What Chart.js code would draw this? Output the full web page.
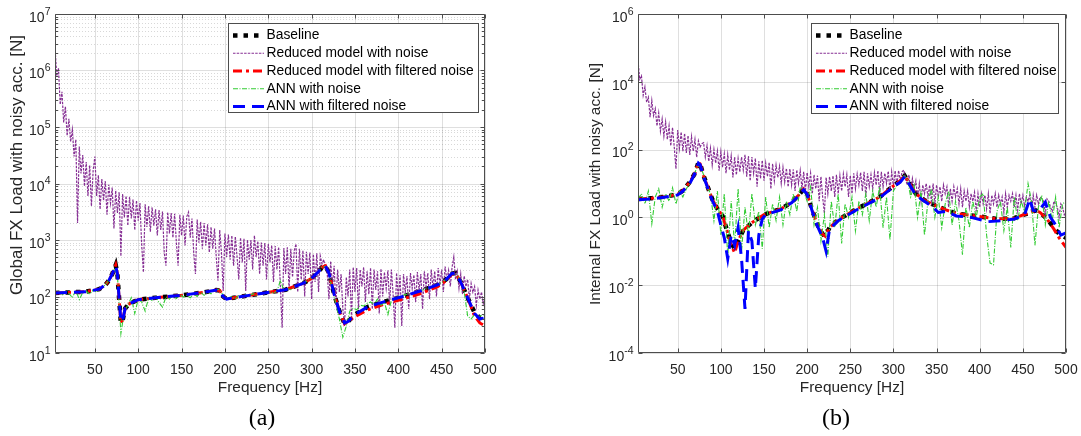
<!DOCTYPE html>
<html>
<head>
<meta charset="utf-8">
<title>FX load spectra with noisy acceleration</title>
<script src="https://cdn.jsdelivr.net/npm/chart.js@4.4.1/dist/chart.umd.min.js"></script>
<style>
  html, body { margin: 0; padding: 0; background: #fff; }
  #wrap { position: relative; width: 1081px; height: 436px; overflow: hidden; }
  canvas { position: absolute; top: 0; }
  #panelA { left: 0; width: 540px; height: 436px; }
  #panelB { left: 540px; width: 541px; height: 436px; }
  .caption { position: absolute; top: 404px; width: 60px; text-align: center; line-height: 28px;
             font: 24px "Liberation Serif", "Times New Roman", serif; color: #000; }
</style>
</head>
<body>
<div id="wrap">
  <canvas id="panelA" width="540" height="436"></canvas>
  <canvas id="panelB" width="541" height="436"></canvas>
  <div class="caption" style="left:232px">(a)</div>
  <div class="caption" style="left:806px">(b)</div>
</div>
<script>
// frequency bins of the ANN spectra [Hz]
const freq = [4, 8, 12, 16, 20, 24, 28, 32, 36, 40, 44, 48, 52, 56, 60, 64, 68, 72, 76, 80,
  84, 88, 92, 96, 100, 104, 108, 112, 116, 120, 124, 128, 132, 136, 140, 144, 148, 152, 156, 160,
  164, 168, 172, 176, 180, 184, 188, 192, 196, 200, 204, 208, 212, 216, 220, 224, 228, 232, 236, 240,
  244, 248, 252, 256, 260, 264, 268, 272, 276, 280, 284, 288, 292, 296, 300, 304, 308, 312, 316, 320,
  324, 328, 332, 336, 340, 344, 348, 352, 356, 360, 364, 368, 372, 376, 380, 384, 388, 392, 396, 400,
  404, 408, 412, 416, 420, 424, 428, 432, 436, 440, 444, 448, 452, 456, 460, 464, 468, 472, 476, 480,
  484, 488, 492, 496, 500];

// finer bins of the reduced-model spectra [Hz]
const freqFine = [4, 6, 8, 10, 12, 14, 16, 18, 20, 22, 24, 26, 28, 30, 32, 34, 36, 38, 40, 42,
  44, 46, 48, 50, 52, 54, 56, 58, 60, 62, 64, 66, 68, 70, 72, 74, 76, 78, 80, 82,
  84, 86, 88, 90, 92, 94, 96, 98, 100, 102, 104, 106, 108, 110, 112, 114, 116, 118, 120, 122,
  124, 126, 128, 130, 132, 134, 136, 138, 140, 142, 144, 146, 148, 150, 152, 154, 156, 158, 160, 162,
  164, 166, 168, 170, 172, 174, 176, 178, 180, 182, 184, 186, 188, 190, 192, 194, 196, 198, 200, 202,
  204, 206, 208, 210, 212, 214, 216, 218, 220, 222, 224, 226, 228, 230, 232, 234, 236, 238, 240, 242,
  244, 246, 248, 250, 252, 254, 256, 258, 260, 262, 264, 266, 268, 270, 272, 274, 276, 278, 280, 282,
  284, 286, 288, 290, 292, 294, 296, 298, 300, 302, 304, 306, 308, 310, 312, 314, 316, 318, 320, 322,
  324, 326, 328, 330, 332, 334, 336, 338, 340, 342, 344, 346, 348, 350, 352, 354, 356, 358, 360, 362,
  364, 366, 368, 370, 372, 374, 376, 378, 380, 382, 384, 386, 388, 390, 392, 394, 396, 398, 400, 402,
  404, 406, 408, 410, 412, 414, 416, 418, 420, 422, 424, 426, 428, 430, 432, 434, 436, 438, 440, 442,
  444, 446, 448, 450, 452, 454, 456, 458, 460, 462, 464, 466, 468, 470, 472, 474, 476, 478, 480, 482,
  484, 486, 488, 490, 492, 494, 496, 498, 500];

// (a) global FX load
const reducedNoiseA = [2600000, 800000, 1100000, 250000, 420000, 120000, 230000, 70000, 140000, 55000,
  90000, 30000, 60000, 2000, 45000, 15000, 32000, 9000, 24000, 6000,
  21000, 4000, 17000, 30000, 6000, 14000, 3500, 12000, 5000, 11000,
  2800, 9500, 4500, 8500, 1600, 7500, 3000, 7000, 520, 6500,
  2500, 6000, 1800, 5800, 2400, 5200, 1500, 5000, 2200, 4500,
  800, 270, 4300, 1700, 4000, 1400, 3800, 1800, 3500, 1200,
  3400, 1500, 3200, 600, 350, 3100, 1300, 3000, 1100, 2900,
  900, 350, 2800, 1200, 2700, 800, 2600, 3100, 1100, 2400,
  600, 250, 2300, 900, 2100, 700, 2000, 800, 1900, 600,
  1700, 700, 1600, 500, 190, 1500, 600, 125, 1300, 500,
  1250, 450, 1200, 350, 1150, 500, 200, 1100, 400, 1050,
  125, 1000, 450, 1000, 300, 1200, 500, 950, 250, 900,
  350, 880, 200, 850, 400, 800, 180, 780, 300, 750,
  150, 28, 720, 250, 740, 130, 700, 220, 650, 850,
  120, 700, 200, 650, 100, 620, 250, 600, 90, 560,
  180, 580, 120, 520, 380, 450, 300, 260, 90, 420,
  150, 350, 70, 300, 120, 250, 60, 30, 220, 100,
  300, 40, 330, 120, 320, 60, 300, 150, 330, 80,
  280, 110, 320, 60, 300, 130, 280, 50, 310, 100,
  270, 140, 290, 70, 300, 110, 28, 260, 90, 240,
  30, 250, 120, 230, 60, 260, 140, 240, 80, 270,
  130, 250, 60, 280, 150, 260, 90, 300, 140, 280,
  100, 320, 160, 300, 120, 340, 200, 290, 150, 330,
  500, 200, 280, 140, 250, 110, 230, 150, 200, 90,
  170, 120, 150, 70, 130, 90, 120, 75, 100];
const annNoiseA = [110, 120, 105, 125, 115, 95, 130, 88, 118, 125,
  110, 130, 120, 140, 150, 175, 220, 310, 240, 22,
  55, 70, 95, 50, 90, 80, 55, 95, 85, 100,
  78, 65, 98, 90, 105, 92, 110, 98, 105, 95,
  112, 100, 118, 105, 122, 112, 128, 135, 118, 92,
  95, 100, 90, 105, 98, 108, 102, 112, 105, 115,
  108, 118, 120, 115, 125, 190, 130, 138, 132, 150,
  155, 165, 175, 195, 215, 245, 280, 330, 340, 250,
  130, 75, 40, 19, 30, 55, 62, 58, 70, 68,
  75, 80, 72, 90, 70, 78, 48, 85, 95, 98,
  102, 108, 112, 110, 120, 125, 130, 138, 142, 150,
  158, 170, 185, 205, 240, 255, 240, 170, 120, 45,
  40, 48, 44, 46, 48];
const freqSmoothA = [4, 20, 40, 55, 62, 66, 70, 72, 74, 76, 78, 80, 82, 85, 90, 100, 120, 150, 175, 190,
  194, 198, 202, 210, 240, 270, 290, 300, 308, 312, 316, 320, 326, 332, 338, 342, 350, 365, 385, 405,
  425, 445, 455, 462, 466, 472, 480, 488, 494, 500];
const baselineA = [115, 118, 122, 135, 160, 190, 250, 300, 360, 250, 90, 34, 38, 62, 75, 88, 95, 105, 118, 130,
  128, 100, 90, 95, 112, 132, 170, 210, 275, 330, 350, 260, 110, 55, 33, 36, 48, 66, 82, 100,
  125, 160, 200, 255, 260, 180, 95, 52, 42, 47];
const reducedFilteredA = [115, 118, 122, 135, 160, 190, 250, 300, 360, 250, 90, 34, 38, 62, 75, 88, 95, 105, 118, 130,
  128, 100, 90, 95, 112, 132, 170, 210, 275, 330, 350, 260, 110, 55, 33, 36, 44, 58, 74, 90,
  112, 148, 190, 250, 260, 180, 95, 45, 34, 30];
const annFilteredA = [115, 118, 122, 135, 160, 190, 250, 300, 350, 250, 90, 36, 38, 62, 75, 88, 95, 105, 118, 130,
  128, 100, 90, 95, 112, 132, 170, 210, 275, 330, 345, 260, 110, 55, 34, 36, 48, 66, 82, 100,
  125, 160, 200, 255, 260, 180, 95, 50, 40, 42];

// (b) internal FX load
const reducedNoiseB = [42000, 12000, 15000, 4000, 7000, 2500, 3500, 900, 2800, 1000,
  1600, 500, 1200, 350, 800, 250, 650, 200, 500, 130,
  450, 120, 27, 380, 110, 330, 90, 300, 80, 260,
  70, 240, 90, 200, 60, 180, 120, 150, 160, 60,
  130, 45, 110, 35, 100, 40, 90, 24, 85, 30,
  75, 20, 70, 25, 65, 15, 60, 18, 55, 22,
  60, 25, 70, 16, 65, 12, 60, 20, 55, 8,
  45, 14, 48, 12, 40, 16, 42, 7, 38, 12,
  35, 15, 32, 10, 30, 11, 28, 8, 27, 9,
  26, 6, 25, 10, 24, 7, 22, 6, 21, 8,
  20, 5, 18, 7, 17, 3, 16, 4, 1.3, 15,
  5, 16, 6, 17, 4, 18, 5, 17, 6, 19,
  8, 18, 4, 17, 5, 20, 7, 19, 9, 21,
  6, 22, 4, 20, 8, 18, 7, 21, 9, 24,
  5, 22, 8, 20, 10, 23, 6, 22, 8, 24,
  9, 24, 12, 22, 25, 14, 9, 18, 6, 14,
  7, 12, 4, 10, 3, 9, 5, 10, 4, 9,
  3, 10, 2.5, 9, 4, 8, 3, 9, 5, 8,
  2, 7, 3, 8, 4, 7, 2.5, 7, 2, 6,
  3, 6, 2, 5, 3, 5.5, 1.5, 5, 2, 5,
  2.5, 4.5, 1.8, 5, 1.3, 4.5, 2.5, 5, 2, 4.5,
  2.5, 4, 1.4, 5, 2, 4.5, 3, 5, 2, 4.5,
  1.6, 5, 2.5, 4.5, 2.2, 4, 3, 4.5, 1.5, 4.5,
  2, 4.5, 2.5, 4, 3.5, 3, 1.2, 3.5, 3, 2,
  1.5, 3, 2.5, 2, 1, 2.5, 2, 1.2, 1.5];
const annNoiseB = [3.5, 5, 2.5, 6, 0.65, 4, 7, 2, 5, 3,
  7.5, 2.5, 6, 4, 7, 10, 14, 30, 35, 18,
  8, 5, 0.8, 6, 0.3, 5, 0.07, 3, 0.15, 7,
  0.1, 2, 0.3, 5, 0.6, 1.5, 0.12, 4, 0.5, 2.5,
  0.8, 4, 0.6, 3, 1.2, 5, 1.5, 8, 6, 3,
  8, 0.6, 2, 0.2, 1.2, 0.07, 3, 0.5, 5, 0.17,
  2.5, 1, 4, 0.4, 3, 1.2, 5, 0.8, 6, 2,
  8, 0.5, 4, 0.22, 6, 9, 12, 17, 14, 4,
  9, 1, 6, 0.3, 3, 7, 1, 4, 0.5, 2.5,
  6, 0.6, 3, 0.8, 0.08, 2, 0.5, 3, 1, 4,
  5, 0.3, 0.045, 0.04, 1.5, 3, 0.4, 2, 0.13, 4,
  0.8, 3, 1.5, 10, 3, 0.15, 2, 4.5, 0.6, 3,
  0.8, 4, 0.5, 2.5, 3];
const freqSmoothB = [4, 20, 36, 50, 56, 64, 70, 74, 76, 80, 86, 90, 96, 102, 108, 112, 116, 120, 126, 136,
  150, 170, 182, 190, 196, 200, 206, 212, 218, 221, 226, 236, 256, 284, 300, 308, 313, 318, 326, 336,
  346, 360, 373, 396, 420, 440, 455, 465, 470, 478, 486, 492, 500];
const baselineB = [3.5, 3.7, 4.1, 4.8, 6.2, 11, 20, 42, 38, 17, 6.5, 3.5, 1.8, 1.1, 0.35, 0.18, 0.12, 0.2, 0.42, 0.7,
  1.2, 1.8, 2.8, 4.5, 6.9, 5.0, 1.6, 0.6, 0.32, 0.28, 0.5, 0.85, 1.7, 4, 8.5, 12, 17, 11, 5, 3.2,
  2.4, 1.7, 1.3, 1.1, 0.9, 0.95, 1.3, 1.6, 1.4, 0.9, 0.5, 0.33, 0.25];
const reducedFilteredB = [3.5, 3.7, 4.1, 4.8, 6.2, 11, 20, 42, 38, 17, 6.5, 3.5, 1.8, 1.1, 0.35, 0.15, 0.09, 0.2, 0.42, 0.7,
  1.2, 1.8, 2.8, 4.5, 6.9, 5.0, 1.6, 0.6, 0.32, 0.28, 0.5, 0.85, 1.7, 4, 8.5, 12, 17, 11, 5, 3.2,
  2.4, 1.7, 1.3, 1.1, 0.9, 0.95, 1.3, 1.6, 1.4, 0.9, 0.45, 0.25, 0.13];
const freqAnnFilteredB = [4, 20, 36, 50, 56, 64, 70, 74, 76, 80, 86, 90, 96, 100, 104, 108, 112, 116, 120, 124,
  128, 132, 136, 140, 144, 148, 152, 170, 182, 190, 196, 200, 206, 212, 218, 222, 226, 236, 256, 284,
  300, 308, 313, 318, 326, 336, 346, 352, 360, 373, 390, 410, 425, 440, 452, 458, 462, 468, 476, 482,
  488, 494, 500];
const annFilteredB = [3.3, 3.5, 4.0, 4.6, 6, 10, 20, 40, 36, 16, 6, 3.2, 1.5, 0.6, 0.25, 0.06, 0.3, 0.15, 0.5, 0.06,
  0.002, 0.4, 0.2, 0.008, 0.3, 0.9, 1.2, 1.7, 2.7, 4.3, 6.5, 4.8, 1.5, 0.55, 0.25, 0.1, 0.45, 0.8, 1.6, 3.8,
  8, 11, 16, 10, 4.5, 3, 2.0, 1.4, 1.5, 1.1, 1.0, 0.75, 0.8, 0.9, 1.2, 3.5, 1.6, 1.5, 2.8, 1.0,
  0.6, 0.3, 0.35];

const freqTicks = [50, 100, 150, 200, 250, 300, 350, 400, 450, 500];
const expTicksA = [1, 2, 3, 4, 5, 6, 7];
const expTicksB = [-4, -2, 0, 2, 4, 6];
const seriesLabels = ['Baseline', 'Reduced model with noise', 'Reduced model with filtered noise',
  'ANN with noise', 'ANN with filtered noise'];

const FONT = '"Liberation Sans", Arial, Helvetica, sans-serif';
const TEXT = '#262626';

function points(xs, ys) {
  return xs.map((x, i) => ({ x: x, y: ys[i] }));
}

function buildDatasets(p) {
  return [
    { label: seriesLabels[0], data: points(p.fSmooth, p.baseline), borderColor: '#000000',
      borderWidth: 4.5, borderDash: [4.5, 6], order: 4 },
    { label: seriesLabels[1], data: points(freqFine, p.reducedNoise), borderColor: '#862f94',
      borderWidth: 1.2, borderDash: [2.5, 1.2], order: 3 },
    { label: seriesLabels[2], data: points(p.fSmooth, p.reducedFiltered), borderColor: '#ff0000',
      borderWidth: 3, borderDash: [9, 4, 3, 4], order: 2 },
    { label: seriesLabels[3], data: points(freq, p.annNoise), borderColor: '#33cc33',
      borderWidth: 1.1, borderDash: [5, 1.5, 1, 1.5], order: 1 },
    { label: seriesLabels[4], data: points(p.fAnnFiltered, p.annFiltered), borderColor: '#0000ff',
      borderWidth: 3, borderDash: [12, 7], order: 0 }
  ];
}

// MATLAB-style axes: grid, boxed frame with inward ticks, 10^n labels, legend
function matlabAxes(p) {
  return {
    id: 'matlabAxes',
    beforeDatasetsDraw(chart) {
      const { ctx, chartArea: a } = chart;
      const x = chart.scales.x, y = chart.scales.y;
      ctx.save();
      ctx.lineWidth = 1;
      if (p.minorGrid) {
        ctx.strokeStyle = 'rgba(38,38,38,0.18)';
        ctx.setLineDash([1, 2]);
        ctx.beginPath();
        for (let e = p.expTicks[0]; e < p.expTicks[p.expTicks.length - 1]; e++) {
          for (let k = 2; k <= 9; k++) {
            const py = Math.round(y.getPixelForValue(k * Math.pow(10, e))) + 0.5;
            ctx.moveTo(a.left, py);
            ctx.lineTo(a.right, py);
          }
        }
        ctx.stroke();
      }
      ctx.setLineDash([]);
      ctx.strokeStyle = 'rgba(38,38,38,0.15)';
      ctx.beginPath();
      freqTicks.forEach(v => {
        const px = Math.round(x.getPixelForValue(v)) + 0.5;
        ctx.moveTo(px, a.top);
        ctx.lineTo(px, a.bottom);
      });
      p.expTicks.forEach(e => {
        const py = Math.round(y.getPixelForValue(Math.pow(10, e))) + 0.5;
        ctx.moveTo(a.left, py);
        ctx.lineTo(a.right, py);
      });
      ctx.stroke();
      ctx.restore();
    },
    afterDatasetsDraw(chart) {
      const { ctx, chartArea: a } = chart;
      const x = chart.scales.x, y = chart.scales.y;
      const L = Math.round(a.left) + 0.5, R = Math.round(a.right) - 0.5;
      const T = Math.round(a.top) + 0.5, B = Math.round(a.bottom) - 0.5;
      ctx.save();

      // frame and inward tick marks
      ctx.strokeStyle = '#4d4d4d';
      ctx.lineWidth = 1;
      ctx.setLineDash([]);
      ctx.beginPath();
      ctx.rect(L, T, R - L, B - T);
      freqTicks.forEach(v => {
        const px = Math.round(x.getPixelForValue(v)) + 0.5;
        ctx.moveTo(px, B); ctx.lineTo(px, B - 4);
        ctx.moveTo(px, T); ctx.lineTo(px, T + 4);
      });
      p.expTicks.forEach(e => {
        const py = Math.round(y.getPixelForValue(Math.pow(10, e))) + 0.5;
        ctx.moveTo(L, py); ctx.lineTo(L + 4, py);
        ctx.moveTo(R, py); ctx.lineTo(R - 4, py);
      });
      if (p.minorGrid) {
        for (let e = p.expTicks[0]; e < p.expTicks[p.expTicks.length - 1]; e++) {
          for (let k = 2; k <= 9; k++) {
            const py = Math.round(y.getPixelForValue(k * Math.pow(10, e))) + 0.5;
            ctx.moveTo(L, py); ctx.lineTo(L + 2.5, py);
            ctx.moveTo(R, py); ctx.lineTo(R - 2.5, py);
          }
        }
      }
      ctx.stroke();

      // 10^n tick labels
      ctx.fillStyle = TEXT;
      ctx.textBaseline = 'middle';
      p.expTicks.forEach(e => {
        const py = y.getPixelForValue(Math.pow(10, e));
        const ex = String(e);
        ctx.font = '10.5px ' + FONT;
        const ew = ctx.measureText(ex).width;
        ctx.textAlign = 'left';
        ctx.fillText(ex, a.left - 4.5 - ew, py - 2);
        ctx.font = '14px ' + FONT;
        ctx.textAlign = 'right';
        ctx.fillText('10', a.left - 4.5 - ew, py + 4);
      });

      // rotated y-axis title
      ctx.save();
      ctx.translate(p.yTitle.x, p.yTitle.y);
      ctx.rotate(-Math.PI / 2);
      ctx.textAlign = 'center';
      ctx.font = p.yTitle.size + 'px ' + FONT;
      ctx.fillText(p.yTitle.text, 0, 0);
      ctx.restore();

      // legend box
      const lg = p.legend;
      ctx.fillStyle = '#ffffff';
      ctx.fillRect(lg.x, lg.y, lg.w, lg.h);
      ctx.strokeStyle = '#4d4d4d';
      ctx.lineWidth = 1;
      ctx.strokeRect(lg.x + 0.5, lg.y + 0.5, lg.w, lg.h);
      chart.data.datasets.forEach((ds, i) => {
        const cy = lg.y + 12.5 + i * 17.75;
        ctx.strokeStyle = ds.borderColor;
        ctx.lineWidth = ds.borderWidth;
        ctx.setLineDash(ds.borderDash || []);
        ctx.lineCap = 'butt';
        ctx.beginPath();
        ctx.moveTo(lg.x + 5, cy);
        ctx.lineTo(lg.x + 36, cy);
        ctx.stroke();
        ctx.fillStyle = '#000000';
        ctx.font = '13.8px ' + FONT;
        ctx.textAlign = 'left';
        ctx.textBaseline = 'middle';
        ctx.fillText(ds.label, lg.x + 38.5, cy);
      });
      ctx.restore();
    }
  };
}

function makeChart(canvas, p) {
  return new Chart(canvas, {
    type: 'line',
    data: { datasets: buildDatasets(p) },
    options: {
      responsive: false,
      animation: false,
      events: [],
      layout: { padding: { left: 0, right: p.padRight, top: 14, bottom: 0 } },
      elements: { point: { radius: 0 }, line: { tension: 0, fill: false, borderCapStyle: 'butt' } },
      plugins: { legend: { display: false }, tooltip: { enabled: false } },
      scales: {
        x: {
          type: 'linear', min: 4, max: 500,
          afterBuildTicks: sc => { sc.ticks = freqTicks.map(v => ({ value: v })); },
          afterFit: sc => { sc.height = 83; sc.paddingLeft = 0; sc.paddingRight = 0; },
          grid: { display: false, drawTicks: false },
          border: { display: false },
          ticks: { autoSkip: false, maxRotation: 0, padding: 8.5, color: TEXT,
                   font: { family: FONT, size: 14 } },
          title: { display: true, text: 'Frequency [Hz]', color: TEXT,
                   font: { family: FONT, size: 15.4 }, padding: { top: 0, bottom: 38.8 } }
        },
        y: {
          type: 'logarithmic', min: p.yMin, max: p.yMax,
          afterFit: sc => { sc.width = p.yWidth; sc.paddingTop = 0; sc.paddingBottom = 0; },
          grid: { display: false, drawTicks: false },
          border: { display: false },
          ticks: { display: false }
        }
      }
    },
    plugins: [matlabAxes(p)]
  });
}

makeChart(document.getElementById('panelA'), {
  fSmooth: freqSmoothA, baseline: baselineA, reducedNoise: reducedNoiseA,
  reducedFiltered: reducedFilteredA, annNoise: annNoiseA,
  fAnnFiltered: freqSmoothA, annFiltered: annFilteredA,
  yMin: 10, yMax: 1e7, expTicks: expTicksA, minorGrid: true,
  yWidth: 55, padRight: 55,
  legend: { x: 228, y: 23, w: 250, h: 89 },
  yTitle: { text: 'Global FX Load with noisy acc. [N]', x: 17.5, y: 165, size: 17 }
});

makeChart(document.getElementById('panelB'), {
  fSmooth: freqSmoothB, baseline: baselineB, reducedNoise: reducedNoiseB,
  reducedFiltered: reducedFilteredB, annNoise: annNoiseB,
  fAnnFiltered: freqAnnFilteredB, annFiltered: annFilteredB,
  yMin: 1e-4, yMax: 1e6, expTicks: expTicksB, minorGrid: false,
  yWidth: 98, padRight: 15,
  legend: { x: 271, y: 23, w: 247, h: 90 },
  yTitle: { text: 'Internal FX Load with noisy acc. [N]', x: 56, y: 184, size: 15.4 }
});
</script>
</body>
</html>
